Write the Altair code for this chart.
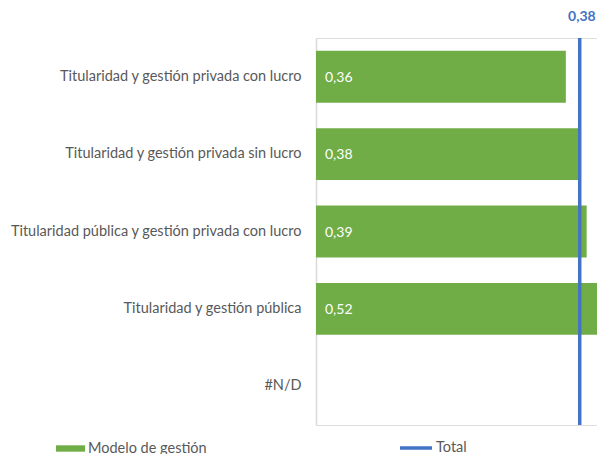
import altair as alt
import pandas as pd

categories = [
    "Titularidad y gestión privada con lucro",
    "Titularidad y gestión privada sin lucro",
    "Titularidad pública y gestión privada con lucro",
    "Titularidad y gestión pública",
    "#N/D",
]
values = [0.36, 0.38, 0.39, 0.52, None]
total = 0.38

bars_df = pd.DataFrame({"cat": categories, "v": values, "serie": ["Modelo de gestión"] * 5})
tot_df = pd.DataFrame({"v": [total], "serie": ["Total"]})

FONT = "Lato"
FS = 14.5
W, H = 281, 387

y_enc = alt.Y(
    "cat:N",
    sort=categories,
    scale=alt.Scale(domain=categories, paddingInner=0.33, paddingOuter=0.165),
    axis=alt.Axis(
        title=None, ticks=False, grid=False, domainColor="#D9D9D9", domainWidth=1.5,
        labelFont=FONT, labelFontSize=FS, labelColor="#595959", labelPadding=15,
        labelLimit=400,
    ),
)
x_scale = alt.Scale(domain=[0, W / 694], nice=False, zero=True)

bars = alt.Chart(bars_df).transform_filter("isValid(datum.v)").mark_bar(clip=True).encode(
    y=y_enc,
    x=alt.X("v:Q", scale=x_scale, axis=None),
    color=alt.Color(
        "serie:N",
        scale=alt.Scale(domain=["Modelo de gestión"], range=["#70AD47"]),
        legend=alt.Legend(
            title=None, orient="none", legendX=-260, legendY=396,
            symbolType="M-1,-0.22H1V0.22H-1Z", symbolSize=841, symbolStrokeWidth=0,
            labelFont=FONT, labelFontSize=FS, labelColor="#595959", labelOffset=3,
        ),
    ),
)

labels = alt.Chart(bars_df).transform_filter("isValid(datum.v)").transform_calculate(
    t="replace(format(datum.v, '.2f'), '.', ',')"
).mark_text(align="left", baseline="middle", dx=9, dy=1, color="white",
            font=FONT, fontSize=14).encode(
    y=alt.Y("cat:N", sort=categories),
    x=alt.value(0),
    text="t:N",
)

rule = alt.Chart(tot_df).mark_rule(strokeWidth=3.5).encode(
    x=alt.X("v:Q", scale=x_scale, axis=None),
    y=alt.value(0),
    y2=alt.value(H),
    stroke=alt.Stroke(
        "serie:N",
        scale=alt.Scale(domain=["Total"], range=["#4472C4"]),
        legend=alt.Legend(
            title=None, orient="none", legendX=82, legendY=392,
            symbolType="stroke", symbolSize=1024, symbolStrokeWidth=3.5,
            labelFont=FONT, labelFontSize=FS, labelColor="#595959", labelOffset=2,
        ),
    ),
)

rule_label = alt.Chart(tot_df).transform_calculate(
    t="replace(format(datum.v, '.2f'), '.', ',')"
).mark_text(baseline="middle", align="right", dx=16, fontWeight="bold", color="#4472C4",
            font=FONT, fontSize=14).encode(
    x=alt.X("v:Q", scale=x_scale, axis=None),
    y=alt.value(-21),
    text="t:N",
)

chart = alt.layer(bars, labels, rule, rule_label).resolve_legend(
    color="independent", stroke="independent"
).properties(
    width=W, height=H,
    autosize=alt.AutoSizeParams(type="none"),
    padding={"left": 316, "top": 38, "right": 0, "bottom": 29},
).configure_view(stroke=None, strokeWidth=0, fill=None).configure_axis(grid=False).configure_axisX(
    disable=True
).configure(background="white")

chart.save("out.html", embed_options={"renderer": "svg", "actions": False})
